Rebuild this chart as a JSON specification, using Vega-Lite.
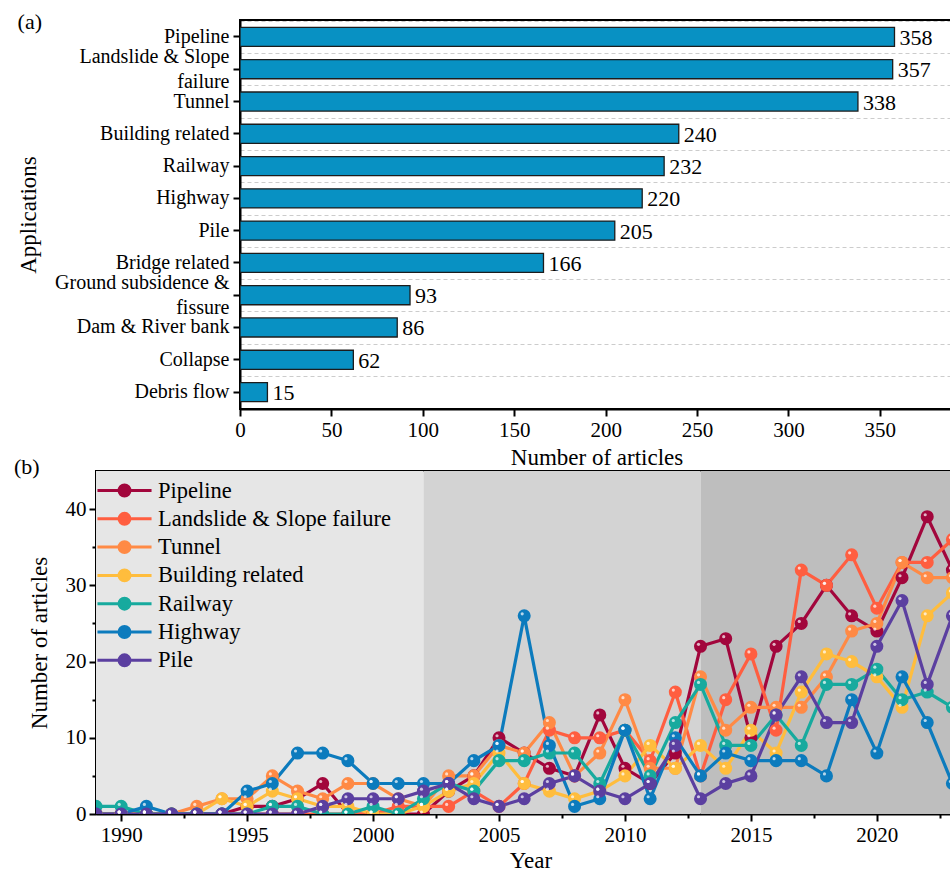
{
  "$schema": "https://vega.github.io/schema/vega-lite/v6.json",
  "background": "white",
  "padding": {"left": 13, "top": 10, "right": 0, "bottom": 0},
  "spacing": -15,
  "resolve": {"scale": {"color": "independent", "fill": "independent"}, "legend": {"color": "independent", "fill": "independent"}},
  "datasets": {
    "applications": [
      {"Application": "Pipeline", "Articles": 358},
      {"Application": "Landslide & Slope failure", "Articles": 357},
      {"Application": "Tunnel", "Articles": 338},
      {"Application": "Building related", "Articles": 240},
      {"Application": "Railway", "Articles": 232},
      {"Application": "Highway", "Articles": 220},
      {"Application": "Pile", "Articles": 205},
      {"Application": "Bridge related", "Articles": 166},
      {"Application": "Ground subsidence & fissure", "Articles": 93},
      {"Application": "Dam & River bank", "Articles": 86},
      {"Application": "Collapse", "Articles": 62},
      {"Application": "Debris flow", "Articles": 15}
    ],
    "periods": [
      {"Period": "1989-2002", "Start": 1989, "End": 2002},
      {"Period": "2002-2013", "Start": 2002, "End": 2013},
      {"Period": "2013-2024", "Start": 2013, "End": 2024}
    ],
    "yearly": [
      {"Year": 1989, "Pipeline": 0, "Landslide & Slope failure": 0, "Tunnel": 0, "Building related": 0, "Railway": 1, "Highway": 0, "Pile": 0},
      {"Year": 1990, "Pipeline": 0, "Landslide & Slope failure": 0, "Tunnel": 0, "Building related": 0, "Railway": 1, "Highway": 0, "Pile": 0},
      {"Year": 1991, "Pipeline": 0, "Landslide & Slope failure": 0, "Tunnel": 0, "Building related": 0, "Railway": 0, "Highway": 1, "Pile": 0},
      {"Year": 1992, "Pipeline": 0, "Landslide & Slope failure": 0, "Tunnel": 0, "Building related": 0, "Railway": 0, "Highway": 0, "Pile": 0},
      {"Year": 1993, "Pipeline": 0, "Landslide & Slope failure": 0, "Tunnel": 1, "Building related": 0, "Railway": 0, "Highway": 0, "Pile": 0},
      {"Year": 1994, "Pipeline": 0, "Landslide & Slope failure": 0, "Tunnel": 2, "Building related": 2, "Railway": 0, "Highway": 0, "Pile": 0},
      {"Year": 1995, "Pipeline": 1, "Landslide & Slope failure": 0, "Tunnel": 2, "Building related": 1, "Railway": 0, "Highway": 3, "Pile": 0},
      {"Year": 1996, "Pipeline": 1, "Landslide & Slope failure": 0, "Tunnel": 5, "Building related": 3, "Railway": 1, "Highway": 4, "Pile": 0},
      {"Year": 1997, "Pipeline": 2, "Landslide & Slope failure": 0, "Tunnel": 3, "Building related": 2, "Railway": 1, "Highway": 8, "Pile": 0},
      {"Year": 1998, "Pipeline": 4, "Landslide & Slope failure": 0, "Tunnel": 2, "Building related": 1, "Railway": 0, "Highway": 8, "Pile": 1},
      {"Year": 1999, "Pipeline": 0, "Landslide & Slope failure": 0, "Tunnel": 4, "Building related": 1, "Railway": 0, "Highway": 7, "Pile": 2},
      {"Year": 2000, "Pipeline": 0, "Landslide & Slope failure": 0, "Tunnel": 4, "Building related": 0, "Railway": 1, "Highway": 4, "Pile": 2},
      {"Year": 2001, "Pipeline": 0, "Landslide & Slope failure": 1, "Tunnel": 2, "Building related": 0, "Railway": 0, "Highway": 4, "Pile": 2},
      {"Year": 2002, "Pipeline": 0, "Landslide & Slope failure": 1, "Tunnel": 1, "Building related": 1, "Railway": 2, "Highway": 4, "Pile": 3},
      {"Year": 2003, "Pipeline": 3, "Landslide & Slope failure": 1, "Tunnel": 5, "Building related": 3, "Railway": 4, "Highway": 4, "Pile": 4},
      {"Year": 2004, "Pipeline": 5, "Landslide & Slope failure": 3, "Tunnel": 5, "Building related": 4, "Railway": 3, "Highway": 7, "Pile": 2},
      {"Year": 2005, "Pipeline": 10, "Landslide & Slope failure": 1, "Tunnel": 9, "Building related": 8, "Railway": 7, "Highway": 9, "Pile": 1},
      {"Year": 2006, "Pipeline": 8, "Landslide & Slope failure": 4, "Tunnel": 8, "Building related": 4, "Railway": 7, "Highway": 26, "Pile": 2},
      {"Year": 2007, "Pipeline": 6, "Landslide & Slope failure": 11, "Tunnel": 12, "Building related": 3, "Railway": 8, "Highway": 9, "Pile": 4},
      {"Year": 2008, "Pipeline": 5, "Landslide & Slope failure": 10, "Tunnel": 5, "Building related": 2, "Railway": 8, "Highway": 1, "Pile": 5},
      {"Year": 2009, "Pipeline": 13, "Landslide & Slope failure": 10, "Tunnel": 8, "Building related": 3, "Railway": 4, "Highway": 2, "Pile": 3},
      {"Year": 2010, "Pipeline": 6, "Landslide & Slope failure": 11, "Tunnel": 15, "Building related": 5, "Railway": 11, "Highway": 11, "Pile": 2},
      {"Year": 2011, "Pipeline": 4, "Landslide & Slope failure": 7, "Tunnel": 6, "Building related": 9, "Railway": 5, "Highway": 2, "Pile": 4},
      {"Year": 2012, "Pipeline": 8, "Landslide & Slope failure": 16, "Tunnel": 6, "Building related": 6, "Railway": 12, "Highway": 10, "Pile": 9},
      {"Year": 2013, "Pipeline": 22, "Landslide & Slope failure": 5, "Tunnel": 18, "Building related": 9, "Railway": 17, "Highway": 5, "Pile": 2},
      {"Year": 2014, "Pipeline": 23, "Landslide & Slope failure": 15, "Tunnel": 11, "Building related": 6, "Railway": 9, "Highway": 8, "Pile": 4},
      {"Year": 2015, "Pipeline": 10, "Landslide & Slope failure": 21, "Tunnel": 14, "Building related": 11, "Railway": 9, "Highway": 7, "Pile": 5},
      {"Year": 2016, "Pipeline": 22, "Landslide & Slope failure": 11, "Tunnel": 14, "Building related": 8, "Railway": 13, "Highway": 7, "Pile": 13},
      {"Year": 2017, "Pipeline": 25, "Landslide & Slope failure": 32, "Tunnel": 14, "Building related": 16, "Railway": 9, "Highway": 7, "Pile": 18},
      {"Year": 2018, "Pipeline": 30, "Landslide & Slope failure": 30, "Tunnel": 18, "Building related": 21, "Railway": 17, "Highway": 5, "Pile": 12},
      {"Year": 2019, "Pipeline": 26, "Landslide & Slope failure": 34, "Tunnel": 24, "Building related": 20, "Railway": 17, "Highway": 15, "Pile": 12},
      {"Year": 2020, "Pipeline": 24, "Landslide & Slope failure": 27, "Tunnel": 25, "Building related": 18, "Railway": 19, "Highway": 8, "Pile": 22},
      {"Year": 2021, "Pipeline": 31, "Landslide & Slope failure": 33, "Tunnel": 33, "Building related": 14, "Railway": 15, "Highway": 18, "Pile": 28},
      {"Year": 2022, "Pipeline": 39, "Landslide & Slope failure": 33, "Tunnel": 31, "Building related": 26, "Railway": 16, "Highway": 12, "Pile": 17},
      {"Year": 2023, "Pipeline": 32, "Landslide & Slope failure": 36, "Tunnel": 31, "Building related": 29, "Railway": 14, "Highway": 4, "Pile": 26}
    ]
  },
  "config": {
    "font": "Liberation Serif",
    "view": {"stroke": "black", "strokeWidth": 2},
    "axis": {
      "labelColor": "black",
      "titleColor": "black",
      "labelFontSize": 21,
      "titleFontSize": 23,
      "titleFontWeight": "normal",
      "domainColor": "black",
      "domainWidth": 2,
      "tickColor": "black",
      "tickWidth": 2,
      "tickSize": 7,
      "labelPadding": 3,
      "grid": false,
      "labelFlush": false
    },
    "title": {"fontSize": 22, "fontWeight": "normal", "color": "black"},
    "legend": {"labelColor": "black"}
  },
  "vconcat": [
    {
      "spacing": -81,
      "hconcat": [
        {
          "width": 1,
          "height": 1,
          "view": {"stroke": null},
          "data": {"values": []},
          "mark": "point"
        },
        {
          "width": 713,
          "height": 389,
          "title": {"text": "(a)", "anchor": "start", "frame": "bounds", "offset": -14},
          "data": {"name": "applications"},
          "encoding": {
            "x": {
              "field": "Articles",
              "type": "quantitative",
              "scale": {"domain": [0, 390], "nice": false},
              "axis": {"title": "Number of articles", "values": [0, 50, 100, 150, 200, 250, 300, 350], "titlePadding": 6}
            },
            "y": {
              "field": "Application",
              "type": "nominal",
              "sort": null,
              "scale": {"paddingInner": 0.41, "paddingOuter": 0.23},
              "axis": {
                "title": "Applications",
                "labelFontSize": 20,
                "labelLimit": 300,
                "labelLineHeight": 25,
                "labelPadding": 4,
                "titlePadding": 14,
                "labelOffset": {
                  "condition": {"test": "datum.value == 'Landslide & Slope failure' || datum.value == 'Ground subsidence & fissure'", "value": -12.5},
                  "value": 0
                },
                "labelExpr": "datum.label == 'Landslide & Slope failure' ? ['Landslide & Slope', 'failure'] : datum.label == 'Ground subsidence & fissure' ? ['Ground subsidence &', 'fissure'] : datum.label"
              }
            }
          },
          "layer": [
            {
              "mark": {"type": "bar", "fill": "#0891c3", "stroke": "#1c1c1c", "strokeWidth": 1.3, "clip": true}
            },
            {
              "mark": {"type": "text", "align": "left", "baseline": "middle", "dx": 5, "dy": 1, "fontSize": 22, "color": "black", "clip": true},
              "encoding": {
                "text": {"field": "Articles", "type": "quantitative"},
                "y": {
                  "field": "Application",
                  "type": "nominal",
                  "sort": null,
                  "axis": {
                    "orient": "left",
                    "labels": false,
                    "ticks": false,
                    "domain": false,
                    "title": null,
                    "grid": true,
                    "gridDash": [4, 3],
                    "gridColor": "#cccccc",
                    "gridWidth": 1,
                    "bandPosition": 0,
                    "tickOffset": -6.6
                  }
                }
              }
            }
          ],
          "resolve": {"axis": {"y": "independent"}}
        }
      ]
    },
    {
      "width": 869,
      "height": 343,
      "title": {"text": "(b)", "anchor": "start", "frame": "bounds", "offset": -8, "dx": -14},
      "layer": [
        {
          "data": {"name": "periods"},
          "mark": {"type": "rect", "clip": true},
          "encoding": {
            "x": {"field": "Start", "type": "quantitative", "scale": {"domain": [1989, 2023.5], "nice": false, "zero": false}, "axis": null},
            "x2": {"field": "End"},
            "fill": {"field": "Period", "type": "nominal", "scale": {"range": ["#e6e6e6", "#d3d3d3", "#bebebe"]}, "legend": null}
          }
        },
        {
          "data": {"name": "yearly"},
          "transform": [
            {"fold": ["Pipeline", "Landslide & Slope failure", "Tunnel", "Building related", "Railway", "Highway", "Pile"], "as": ["Application", "Articles"]}
          ],
          "encoding": {
            "x": {
              "field": "Year",
              "type": "quantitative",
              "scale": {"domain": [1989, 2023.5], "nice": false, "zero": false},
              "axis": {"title": "Year", "values": [1990, 1995, 2000, 2005, 2010, 2015, 2020], "format": "d", "titlePadding": 4}
            },
            "y": {
              "field": "Articles",
              "type": "quantitative",
              "scale": {"domain": [0, 45], "nice": false},
              "axis": {"title": "Number of articles", "values": [0, 10, 20, 30, 40], "titlePadding": 14}
            },
            "color": {
              "field": "Application",
              "type": "nominal",
              "scale": {
                "domain": ["Pipeline", "Landslide & Slope failure", "Tunnel", "Building related", "Railway", "Highway", "Pile"],
                "range": ["#a2063c", "#ff5e40", "#ff8a45", "#ffbd3d", "#17aa9e", "#0c7bbd", "#5b3fa0"]
              },
              "legend": {
                "title": null,
                "orient": "top-left",
                "offset": 5,
                "padding": 0,
                "labelFontSize": 22.5,
                "labelLimit": 400,
                "labelOffset": 19,
                "rowPadding": 2.3,
                "symbolOffset": 9,
                "symbolSize": 676,
                "symbolStrokeWidth": 3,
                "symbolType": "M-2.08,0L2.08,0M0.42,0A0.42,0.42 0 1,1 -0.42,0A0.42,0.42 0 1,1 0.42,0Z",
                "encode": {
                  "symbols": {
                    "update": {
                      "fill": {"scale": "color", "field": "value"},
                      "stroke": {"scale": "color", "field": "value"},
                      "opacity": {"value": 1}
                    }
                  }
                }
              }
            }
          },
          "layer": [
            {"mark": {"type": "line", "strokeWidth": 3.2, "clip": true}},
            {"mark": {"type": "point", "filled": true, "size": 170, "opacity": 1, "clip": true}}
          ]
        },
        {
          "data": {"name": "yearly"},
          "transform": [
            {"fold": ["Pipeline", "Landslide & Slope failure", "Tunnel", "Building related", "Railway", "Highway", "Pile"], "as": ["Application", "Articles"]}
          ],
          "mark": {"type": "point", "filled": true, "color": "white", "size": 10, "opacity": 0.7, "xOffset": -2, "yOffset": -2, "clip": true},
          "encoding": {
            "x": {
              "field": "Year",
              "type": "quantitative",
              "scale": {"domain": [1989, 2023.5], "nice": false, "zero": false},
              "axis": {"orient": "bottom", "values": [1992.5, 1997.5, 2002.5, 2007.5, 2012.5, 2017.5, 2022.5], "labels": false, "domain": false, "tickSize": 4, "title": null}
            },
            "y": {
              "field": "Articles",
              "type": "quantitative",
              "axis": {"orient": "left", "values": [5, 15, 25, 35], "labels": false, "domain": false, "tickSize": 4, "title": null}
            }
          }
        }
      ],
      "resolve": {"axis": {"x": "independent", "y": "independent"}}
    }
  ]
}
